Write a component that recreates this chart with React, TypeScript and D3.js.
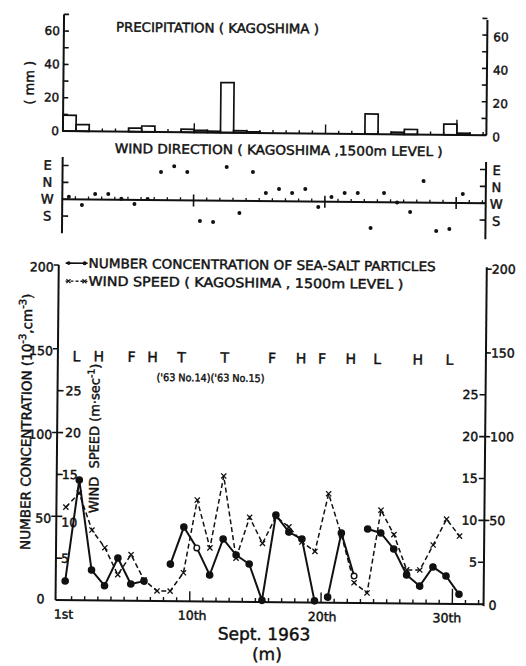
import React from "react";
import * as d3 from "d3";

// Daily records for Kagoshima, September 1963 (index 0 = the 1st)
const days = d3.range(1, 32);
const precipitationMm = [9.5, 4, 0, 0, 0, 2.2, 3.5, 0, 0, 1.8, 1.2, 0.8, 30, 1.2, 0.6, 0, 0, 0, 0, 0, 0, 0, 0, 12, 0, 1.2, 3, 0, 0, 6.4, 1];
// Wind direction at 1500 m in degrees on an unwrapped scale: S=180, W=270, N=360, E=450
const windDirectionDeg = [283, 240, 299, 300, 275, 248, 275, 420, 452, 422, 161, 156, 450, 206, 425, 313, 335, 315, 337, 241, 295, 318, 318, 132, 320, 270, 220, 385, 119, 131, 318];
const directionTicks = [180, 270, 360, 450];
const directionLabels = ["S", "W", "N", "E"];
// Sea-salt particle number concentration (10^-3 cm^-3); null = no observation
const seaSaltConc = [11.4, 71.8, 18.1, 8.8, 25.4, 10, 11.8, null, 22.1, 44.3, 31.9, 15.8, 37.4, 27.9, 22.6, 1, 52, 41.9, 37.8, 1, 3.3, 41.6, 16, 44.2, 41.9, 32.4, 17, 10.4, 21.9, 16.6, 5.8];
const concLineBreaks = [20, 23];
const openCircleDays = [11, 23];
// Wind speed at 1500 m (m/s)
const windSpeed = [11.1, 12.8, 8.4, 6.3, 3.1, 5.5, 2.5, 1.2, 1.2, 3.4, 12.1, 6.4, 15, 5.2, 10.1, 7, 10.2, 9, 7.2, 6.1, 13, 8.1, 2.4, 1.2, 11.1, 8.2, 4, 4, 7, 10.1, 8.1];
// Synoptic situation: L low, H high, F front, T typhoon (position on the day axis)
const weatherAt = [1.2, 2.9, 5.4, 7.0, 9.2, 12.5, 16.1, 18.3, 19.9, 22.1, 24.1, 27.2, 29.6];
const weatherMarks = ["L", "H", "F", "H", "T", "T", "F", "H", "F", "H", "L", "H", "L"];
const precipTicks = [0, 10, 20, 30, 40, 50, 60, 70];
const precipLabels = [0, 20, 40, 60];
const concTicks = [0, 50, 100, 150, 200];
const speedTicks = [5, 10, 15, 20, 25];
const dayTicks = d3.range(1, 33);
const majorDays = [10, 20, 30];
const dayLabels = ["1st", "10th", "20th", "30th"];
const dayLabelAt = [0.4, 10.2, 20.1, 29.6];

const FONT = "'DejaVu Sans', 'Liberation Sans', sans-serif";
const INK = "#111";

function Label(props: any) {
  const { x, y, size = 12, anchor = "start", rotate = 0, weight = 0.45, len, children } = props;
  return (
    <text
      x={x}
      y={y}
      fontSize={size}
      textAnchor={anchor}
      fontFamily={FONT}
      fill={INK}
      stroke={INK}
      strokeWidth={weight}
      dominantBaseline="central"
      transform={rotate ? `rotate(${rotate},${x},${y})` : undefined}
      textLength={len}
      lengthAdjust={len ? "spacingAndGlyphs" : undefined}
    >
      {children}
    </text>
  );
}

export default function App() {
  const x = d3.scaleLinear().domain([0, 32.3]).range([61, 485.1]);
  const mid = (d: number) => x(d - 0.5);

  const yP = d3.scaleLinear().domain([0, 70]).range([133, 16.3]);
  const yD = d3.scaleLinear().domain([180, 450]).range([218, 167.4]);
  const yC = d3.scaleLinear().domain([0, 200]).range([602, 267]);
  const yW = d3.scaleLinear().domain([0, 40]).range([602, 267]);

  const topL = x(0);
  const topR = x(32.25);
  const mainL = x(-0.22);
  const mainR = x(32.38);

  // solid concentration line, broken at missing days and at listed breaks
  const concSegments: [number, number][][] = [];
  let cur: [number, number][] = [];
  days.forEach((d, i) => {
    const v = seaSaltConc[i];
    if (v == null) {
      if (cur.length) concSegments.push(cur);
      cur = [];
      return;
    }
    cur.push([d, v]);
    if (concLineBreaks.includes(d)) {
      concSegments.push(cur);
      cur = [];
    }
  });
  if (cur.length) concSegments.push(cur);

  const concLine = d3
    .line<[number, number]>()
    .x((p) => mid(p[0]))
    .y((p) => yC(p[1]));
  const windLine = d3
    .line<number>()
    .x((_, i) => mid(days[i]))
    .y((w) => yW(w));

  const axisW = 2;
  const wLineY = yD(270);

  return (
    <div style={{ position: "absolute", left: 0, top: 0 }}>
      <svg width={526} height={666} style={{ display: "block", background: "#fff" }}>
        <g transform="rotate(0.55,263,333)">
          {/* ---------- precipitation ---------- */}
          <Label x={113} y={28.5} size={13} len={203}>
            PRECIPITATION ( KAGOSHIMA )
          </Label>
          <Label x={27} y={85} size={13} rotate={-90} anchor="middle">
            ( mm )
          </Label>
          {precipitationMm.map((v, i) =>
            v > 0 ? (
              <rect
                key={"p" + i}
                x={x(days[i] - 1)}
                y={yP(v)}
                width={x(days[i]) - x(days[i] - 1)}
                height={yP(0) - yP(v)}
                fill="#fff"
                stroke={INK}
                strokeWidth={1.7}
              />
            ) : null
          )}
          {dayTicks.map((d) => (
            <line
              key={"pt" + d}
              x1={x(d)}
              x2={x(d)}
              y1={yP(0)}
              y2={yP(0) - (majorDays.includes(d) ? (d === 30 ? 15 : 9) : 3)}
              stroke={INK}
              strokeWidth={1.4}
            />
          ))}
          <line x1={topL} x2={topR} y1={yP(0)} y2={yP(0)} stroke={INK} strokeWidth={axisW} />
          <line x1={topL} x2={topL} y1={yP(70)} y2={yP(0)} stroke={INK} strokeWidth={axisW} />
          <line x1={topR} x2={topR} y1={yP(69)} y2={yP(0)} stroke={INK} strokeWidth={axisW} />
          {precipTicks.map((t) => (
            <g key={"pk" + t}>
              <line x1={topL} x2={topL + 5} y1={yP(t)} y2={yP(t)} stroke={INK} strokeWidth={1.6} />
              <line x1={topR - 5} x2={topR} y1={yP(t)} y2={yP(t)} stroke={INK} strokeWidth={1.6} />
            </g>
          ))}
          {precipLabels.map((t) => (
            <g key={"pl" + t}>
              <Label x={topL - 4} y={yP(t)} anchor="end" size={12}>
                {t}
              </Label>
              <Label x={topR + 6} y={yP(t) + 2} size={12}>
                {t}
              </Label>
            </g>
          ))}

          {/* ---------- wind direction ---------- */}
          <Label x={113} y={150} size={13} len={328}>
            WIND DIRECTION ( KAGOSHIMA ,1500m  LEVEL )
          </Label>
          <line x1={topL} x2={topL} y1={yD(495)} y2={yD(88)} stroke={INK} strokeWidth={axisW} />
          <line x1={topR} x2={topR} y1={yD(490)} y2={yD(78)} stroke={INK} strokeWidth={axisW} />
          <line x1={topL} x2={topR} y1={wLineY} y2={wLineY} stroke={INK} strokeWidth={axisW} />
          {dayTicks.map((d) =>
            majorDays.includes(d) ? (
              <line key={"dt" + d} x1={x(d)} x2={x(d)} y1={wLineY - 6} y2={wLineY + 6} stroke={INK} strokeWidth={1.6} />
            ) : (
              <line key={"dt" + d} x1={x(d)} x2={x(d)} y1={wLineY} y2={wLineY - 3} stroke={INK} strokeWidth={1.3} />
            )
          )}
          {directionTicks.map((t, i) => (
            <g key={"dk" + t}>
              <line x1={topL} x2={topL + 6} y1={yD(t)} y2={yD(t)} stroke={INK} strokeWidth={1.6} />
              <line x1={topR - 6} x2={topR} y1={yD(t)} y2={yD(t)} stroke={INK} strokeWidth={1.6} />
              <Label x={46} y={yD(t)} anchor="middle" size={13}>
                {directionLabels[i]}
              </Label>
              <Label x={495} y={yD(t) + 1} anchor="middle" size={13}>
                {directionLabels[i]}
              </Label>
            </g>
          ))}
          {windDirectionDeg.map((v, i) => (
            <circle key={"wd" + i} cx={mid(days[i])} cy={yD(v)} r={2} fill={INK} />
          ))}

          {/* ---------- sea-salt concentration and wind speed ---------- */}
          <line x1={65} x2={87} y1={265} y2={265} stroke={INK} strokeWidth={1.6} />
          <circle cx={68} cy={265} r={1.8} fill={INK} />
          <circle cx={84} cy={265} r={2} fill={INK} />
          <Label x={88} y={265} size={13} len={347}>
            NUMBER CONCENTRATION OF SEA-SALT PARTICLES
          </Label>
          <line x1={65} x2={87} y1={283} y2={283} stroke={INK} strokeWidth={1.3} strokeDasharray="3 2" />
          {[68, 84].map((cx) => (
            <path key={"lx" + cx} d={`M${cx - 2},${281}L${cx + 2},${285}M${cx - 2},${285}L${cx + 2},${281}`} stroke={INK} strokeWidth={1.2} />
          ))}
          <Label x={88} y={283} size={13} len={315}>
            WIND SPEED ( KAGOSHIMA , 1500m LEVEL )
          </Label>

          {weatherMarks.map((m, i) => (
            <Label key={"wm" + i} x={x(weatherAt[i])} y={358} anchor="middle" size={14}>
              {m}
            </Label>
          ))}
          <Label x={157} y={378} size={10.5} len={108}>
            ('63 No.14)('63 No.15)
          </Label>

          {/* axes */}
          <line x1={mainL} x2={mainL} y1={yC(200)} y2={yC(0)} stroke={INK} strokeWidth={axisW} />
          <line x1={mainR} x2={mainR} y1={yC(200) - 2} y2={yC(0) + 2} stroke={INK} strokeWidth={axisW} />
          <line x1={mainL} x2={mainR} y1={yC(0)} y2={yC(0)} stroke={INK} strokeWidth={axisW} />
          {dayTicks.map((d) => (
            <line
              key={"mt" + d}
              x1={x(d)}
              x2={x(d)}
              y1={yC(0)}
              y2={yC(0) - (majorDays.includes(d) ? (d === 30 ? 15 : 10) : 4)}
              stroke={INK}
              strokeWidth={1.4}
            />
          ))}
          {concTicks.map((t) => (
            <g key={"ck" + t}>
              {t > 0 && <line x1={mainL - 5} x2={mainL} y1={yC(t)} y2={yC(t)} stroke={INK} strokeWidth={1.6} />}
              {t > 0 && <line x1={mainR} x2={mainR + 5} y1={yC(t)} y2={yC(t)} stroke={INK} strokeWidth={1.6} />}
              <Label x={t === 0 ? mainL - 11 : mainL - 5} y={t === 0 ? yC(t) - 1 : yC(t) + 2} anchor="end" size={12.5}>
                {t}
              </Label>
              <Label x={mainR + 5} y={t === 0 ? yC(t) + 1 : yC(t)} size={12.5}>
                {t}
              </Label>
            </g>
          ))}
          {speedTicks.map((t) => (
            <g key={"sk" + t}>
              <line x1={mainL} x2={mainL + 6} y1={yW(t)} y2={yW(t)} stroke={INK} strokeWidth={1.6} />
              <line x1={mainR - 6} x2={mainR} y1={yW(t)} y2={yW(t)} stroke={INK} strokeWidth={1.6} />
              <Label x={mainL + (t >= 20 ? 8 : 5)} y={yW(t) + (t === 10 ? 6 : 0)} size={12.5}>
                {t}
              </Label>
              <Label x={mainR - 7} y={yW(t)} anchor="end" size={12.5}>
                {t}
              </Label>
            </g>
          ))}

          {/* axis titles */}
          <text
            transform={`translate(32,424) rotate(-90)`}
            fontSize={13.5}
            fontFamily={FONT}
            textAnchor="middle"
            fill={INK}
            stroke={INK}
            strokeWidth={0.45}
          >
            NUMBER CONCENTRATION (10
            <tspan fontSize={10} dy={-6}>-3</tspan>
            <tspan dy={6}>,cm</tspan>
            <tspan fontSize={10} dy={-6}>-3</tspan>
            <tspan dy={6}>)</tspan>
          </text>
          <text
            transform={`translate(100,440) rotate(-90)`}
            fontSize={13}
            fontFamily={FONT}
            textAnchor="middle"
            fill={INK}
            stroke={INK}
            strokeWidth={0.45}
          >
            WIND{"\u00a0\u00a0"}SPEED (m·sec
            <tspan fontSize={9.5} dy={-5}>-1</tspan>
            <tspan dy={5}>)</tspan>
          </text>

          {/* wind speed: dashed with crosses */}
          <path d={windLine(windSpeed) || ""} fill="none" stroke={INK} strokeWidth={1.5} strokeDasharray="5 3" />
          {windSpeed.map((w, i) => {
            const cx = mid(days[i]);
            const cy = yW(w);
            return (
              <path
                key={"ws" + i}
                d={`M${cx - 2.6},${cy - 2.6}L${cx + 2.6},${cy + 2.6}M${cx - 2.6},${cy + 2.6}L${cx + 2.6},${cy - 2.6}`}
                stroke={INK}
                strokeWidth={1.3}
              />
            );
          })}

          {/* concentration: solid with dots */}
          {concSegments.map((seg, i) => (
            <path key={"cs" + i} d={concLine(seg) || ""} fill="none" stroke={INK} strokeWidth={2} />
          ))}
          {days.map((d, i) =>
            seaSaltConc[i] == null ? null : (
              <circle
                key={"cc" + d}
                cx={mid(d)}
                cy={yC(seaSaltConc[i] as number)}
                r={openCircleDays.includes(d) ? 2.8 : 3.1}
                fill={openCircleDays.includes(d) ? "#fff" : INK}
                stroke={INK}
                strokeWidth={1.4}
              />
            )
          )}

          {/* day axis labels */}
          {dayLabels.map((s, i) => (
            <Label key={"dl" + s} x={x(dayLabelAt[i])} y={616} anchor="middle" size={12.5}>
              {s}
            </Label>
          ))}
          <Label x={267} y={634} anchor="middle" size={17}>
            Sept. 1963
          </Label>
          <Label x={270} y={654} anchor="middle" size={17}>
            (m)
          </Label>
        </g>
      </svg>
    </div>
  );
}
